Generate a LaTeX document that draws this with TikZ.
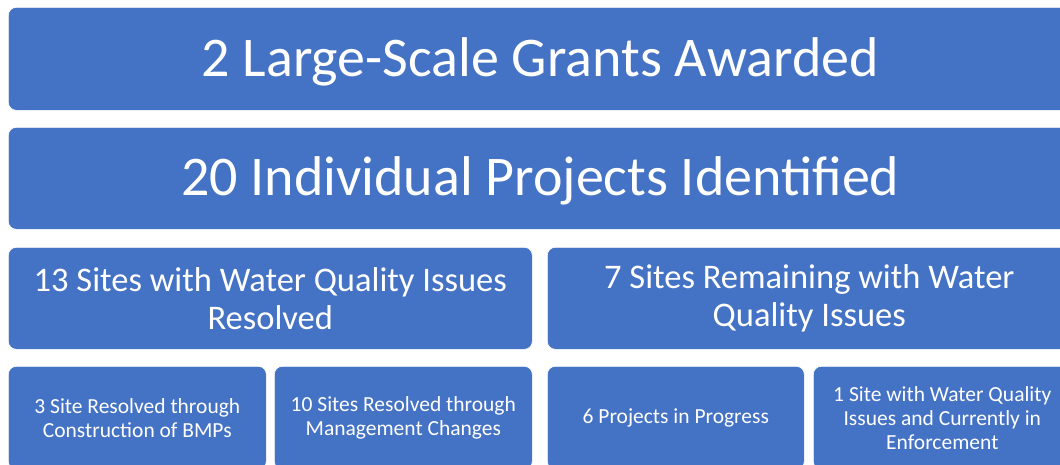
\documentclass[tikz,border=0pt]{standalone}
\usepackage{fontspec}
\setmainfont{Carlito}
\definecolor{boxblue}{HTML}{4472C4}
\tikzset{
  blk/.style={fill=boxblue, draw=white, line width=0.6pt, rounded corners=8pt, text=white, align=center, inner sep=0pt, anchor=north west},
  big/.style={font=\fontsize{56}{64}\selectfont},
  mid/.style={font=\fontsize{34.5}{38}\selectfont},
  sml/.style={font=\fontsize{21.5}{24}\selectfont},
}
\newcommand{\lowered}[1]{\raisebox{-3pt}[\height][\depth]{#1}}
\begin{document}
\begin{tikzpicture}[x=1pt,y=1pt]
\useasboundingbox (0,0) rectangle (1060,-464);
\clip (0,0) rectangle (1060,-464);
\node[blk,big,minimum width=1064pt,minimum height=103pt] (grants) at (8,-7) {\lowered{2 Large-Scale Grants Awarded}};
\node[blk,big,minimum width=1064pt,minimum height=102pt] (projects) at (8,-127) {\lowered{20 Individual Projects Identified}};
\node[blk,mid,minimum width=524pt,minimum height=102pt] (resolved) at (8,-247) {13 Sites with Water Quality Issues\\Resolved};
\node[blk,mid,minimum width=524pt,minimum height=102pt] (remaining) at (547,-247) {7 Sites Remaining with Water\\Quality Issues};
\node[blk,sml,minimum width=258pt,minimum height=103pt] (bmps) at (8,-366) {3 Site Resolved through\\Construction of BMPs};
\node[blk,sml,minimum width=258pt,minimum height=103pt] (mgmt) at (274,-366) {10 Sites Resolved through\\Management Changes};
\node[blk,sml,minimum width=257pt,minimum height=103pt] (progress) at (547,-366) {6 Projects in Progress};
\node[blk,sml,minimum width=258pt,minimum height=103pt] (enforce) at (813,-366) {1 Site with Water Quality\\Issues and Currently in\\Enforcement};
\end{tikzpicture}
\end{document}
